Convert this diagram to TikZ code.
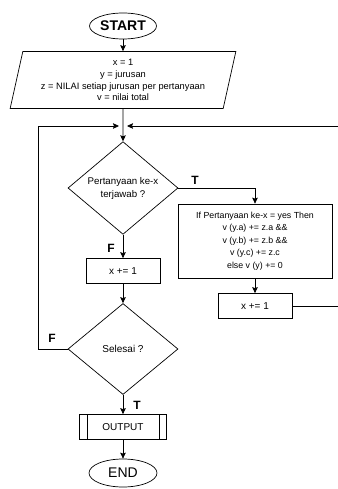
\documentclass[tikz,border=0pt]{standalone}
\usepackage{fontspec}
\setmainfont{Liberation Sans}
\usepackage{tikz}
\usetikzlibrary{arrows.meta,shapes.geometric,positioning}

\tikzset{
	flow/.style={draw, line width=0.7pt},
	term/.style={flow, ellipse, inner sep=0pt, font=\fontsize{14}{16}\selectfont},
	io/.style={flow, trapezium, trapezium left angle=76, trapezium right angle=104, trapezium stretches=true, minimum width=226pt, minimum height=57pt, inner sep=0pt, align=center, font=\fontsize{9.3}{11.7}\selectfont},
	decision/.style={flow, diamond, minimum width=110pt, minimum height=91pt, inner sep=0pt, align=center, font=\fontsize{9.7}{13}\selectfont},
	process/.style={flow, rectangle, inner sep=0pt, align=center, font=\fontsize{10}{12.5}\selectfont},
	tag/.style={font=\bfseries\fontsize{12}{14}\selectfont},
	line/.style={line width=0.7pt, -{Stealth[length=6pt,width=5.5pt,inset=1pt]}}
}

\begin{document}
\begin{tikzpicture}[x=1pt, y=-1pt]
	\useasboundingbox (0,0) rectangle (337,489);

	\node[term, minimum width=67pt, minimum height=26pt, font=\bfseries\fontsize{14}{16}\selectfont](START) at (123,26){START};
	\node[io, below of=START, node distance=54pt](INIT){x = 1\\ y = jurusan\\ z = NILAI setiap jurusan per pertanyaan\\ v = nilai total};
	\coordinate (J) at (123,126);

	\node[decision, below of=INIT, node distance=108pt](Q1){Pertanyaan ke-x\\ terjawab ?};
	\node[process, minimum width=154pt, minimum height=74pt, font=\fontsize{8.8}{12.5}\selectfont](PROC1) at (255,241){If Pertanyaan ke-x = yes Then\\ v (y.a) += z.a \&\&\\ v (y.b) += z.b \&\&\\ v (y.c) += z.c\\ else v (y) += 0};
	\node[process, below of=PROC1, node distance=65pt, minimum width=74pt, minimum height=25pt](INC2){x += 1};
	\coordinate (R) at (340,306);

	\node[process, below of=Q1, node distance=83pt, minimum width=74pt, minimum height=25pt](INC1){x += 1};
	\node[decision, below of=INC1, node distance=78pt, font=\fontsize{10}{13}\selectfont](Q2){Selesai ?};
	\coordinate (L) at (38,349);

	\node[process, below of=Q2, node distance=78pt, minimum width=87pt, minimum height=25pt](OUT){OUTPUT};
	\draw[line width=0.7pt] ([xshift=8pt]OUT.north west) -- ([xshift=8pt]OUT.south west);
	\draw[line width=0.7pt] ([xshift=-8pt]OUT.north east) -- ([xshift=-8pt]OUT.south east);
	\node[term, below of=OUT, node distance=46pt, minimum width=68pt, minimum height=28pt](END){END};

	\draw[line] (START) -- (INIT);
	\draw[line] (INIT) -- (Q1);
	\draw[line] (Q1.east) -| (PROC1.north);
	\draw[line] (Q1) -- (INC1);
	\draw[line] (PROC1) -- (INC2);
	\draw[line] (INC1) -- (Q2);
	\draw[line] (Q2) -- (OUT);
	\draw[line] (OUT) -- (END);

	\draw[line] (INC2.east) -- (R) |- ([xshift=4pt]J);
	\draw[line] (Q2.west) -- (L) |- ([xshift=-4pt]J);

	\node[tag] (T1) at (195,180){T};
	\node[tag] (F1) at (111,248){F};
	\node[tag] (F2) at (52,338){F};
	\node[tag] (T2) at (137,405){T};
\end{tikzpicture}
\end{document}
